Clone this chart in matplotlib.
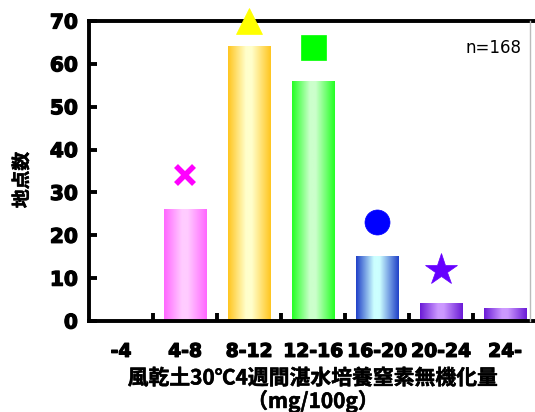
import numpy as np
import matplotlib.pyplot as plt
import matplotlib.patheffects as pe
from matplotlib.colors import LinearSegmentedColormap
from matplotlib.lines import Line2D

categories = ['-4', '4-8', '8-12', '12-16', '16-20', '20-24', '24-']
counts = [0, 26, 64, 56, 15, 4, 3]
# marker series drawn above the bars (categories 1..6)
mark_idx = [1, 2, 3, 4, 5]
mark_vals = [34, 70, 64, 23, 12]
mark_styles = ['x', '^', 's', 'o', '*']
mark_colors = ['#ff00ff', '#ffff00', '#00ff00', '#0000ff', '#6600ff']
mark_sizes = [13, 19, 18, 18, 24]

# edge / centre colours of each bar's horizontal gradient
bar_edges = ['#ff66ff', '#ff66ff', '#ffc51e', '#22ff22', '#1f3fc8', '#6a1ad6', '#6a1ad6']
bar_mids = ['#ffccff', '#ffccff', '#ffffcc', '#ccffcc', '#ccffff', '#cc99ff', '#cc99ff']

plt.rcParams['font.family'] = ['DejaVu Sans', 'Noto Sans CJK JP']
heavy = [pe.withStroke(linewidth=0.9, foreground='black')]
heavy_cjk = [pe.withStroke(linewidth=0.35, foreground='black')]

fig = plt.figure(figsize=(5.35, 4.12), dpi=100)
ax = fig.add_axes([89 / 535, 1 - 321 / 412, 448 / 535, 300 / 412])

width = 0.67
x = np.arange(len(categories))
bars = ax.bar(x, counts, width=width, color='none', edgecolor='none')
grad = np.linspace(0, 1, 256).reshape(1, -1)
for b, e, m in zip(bars, bar_edges, bar_mids):
    h = b.get_height()
    if h <= 0:
        continue
    cmap = LinearSegmentedColormap.from_list('g', [(0, e), (0.42, m), (0.55, m), (1, e)])
    x0 = b.get_x()
    ax.imshow(grad, cmap=cmap, aspect='auto', extent=[x0, x0 + b.get_width(), 0, h],
              zorder=2, interpolation='bicubic')

for i, v, mk, c, s in zip(mark_idx, mark_vals, mark_styles, mark_colors, mark_sizes):
    if mk == 'x':
        ax.plot(i, v, marker=mk, color=c, markersize=s, mew=4, clip_on=False, zorder=4)
    else:
        ax.plot(i, v, marker=mk, color=c, markersize=s, mec=c, mew=0.5,
                clip_on=False, zorder=4)

ax.set_xlim(-0.5, len(categories) - 0.5)
ax.set_ylim(0, 70)
ax.set_yticks(range(0, 71, 10))
ax.set_xticks(x)
ax.set_xticklabels(categories)
ax.set_xticks(np.arange(0.5, len(categories) - 1, 1), minor=True)

ax.tick_params(axis='x', which='major', length=0, pad=15)
ax.tick_params(axis='x', which='minor', direction='in', length=6, width=2.8)
ax.tick_params(axis='y', direction='in', length=6, width=2.8, pad=8)
for lab in ax.get_xticklabels():
    lab.set_fontsize(13.5)
    lab.set_fontweight('bold')
    lab.set_path_effects(heavy)
for lab in ax.get_yticklabels():
    lab.set_fontsize(14.5)
    lab.set_fontweight('bold')
    lab.set_path_effects(heavy)

for side in ['left', 'bottom', 'top']:
    ax.spines[side].set_linewidth(2.8)
ax.spines['right'].set_visible(False)

fig.add_artist(Line2D([530 / 535, 530 / 535], [1 - 21 / 412, 1 - 321 / 412],
                      color='#bbbbbb', lw=1))

ax.text(0.965, 0.91, 'n=168', transform=ax.transAxes, ha='right', va='center',
        fontsize=12)

cjk = ['Noto Sans CJK JP', 'DejaVu Sans']
fig.text(313 / 535, 1 - 378 / 412, '風乾土30℃4週間湛水培養窒素無機化量', ha='center',
         va='center', fontsize=15, fontweight='bold', family=cjk, path_effects=heavy_cjk)
fig.text(313 / 535, 1 - 401 / 412, '（mg/100g）', ha='center', va='center',
         fontsize=15, fontweight='bold', family=cjk, path_effects=heavy_cjk)
fig.text(22 / 535, 1 - 180 / 412, '地点数', rotation=90, ha='center', va='center',
         fontsize=13.5, fontweight='bold', family=cjk, path_effects=heavy_cjk)

fig.savefig('out.png', dpi=100)
